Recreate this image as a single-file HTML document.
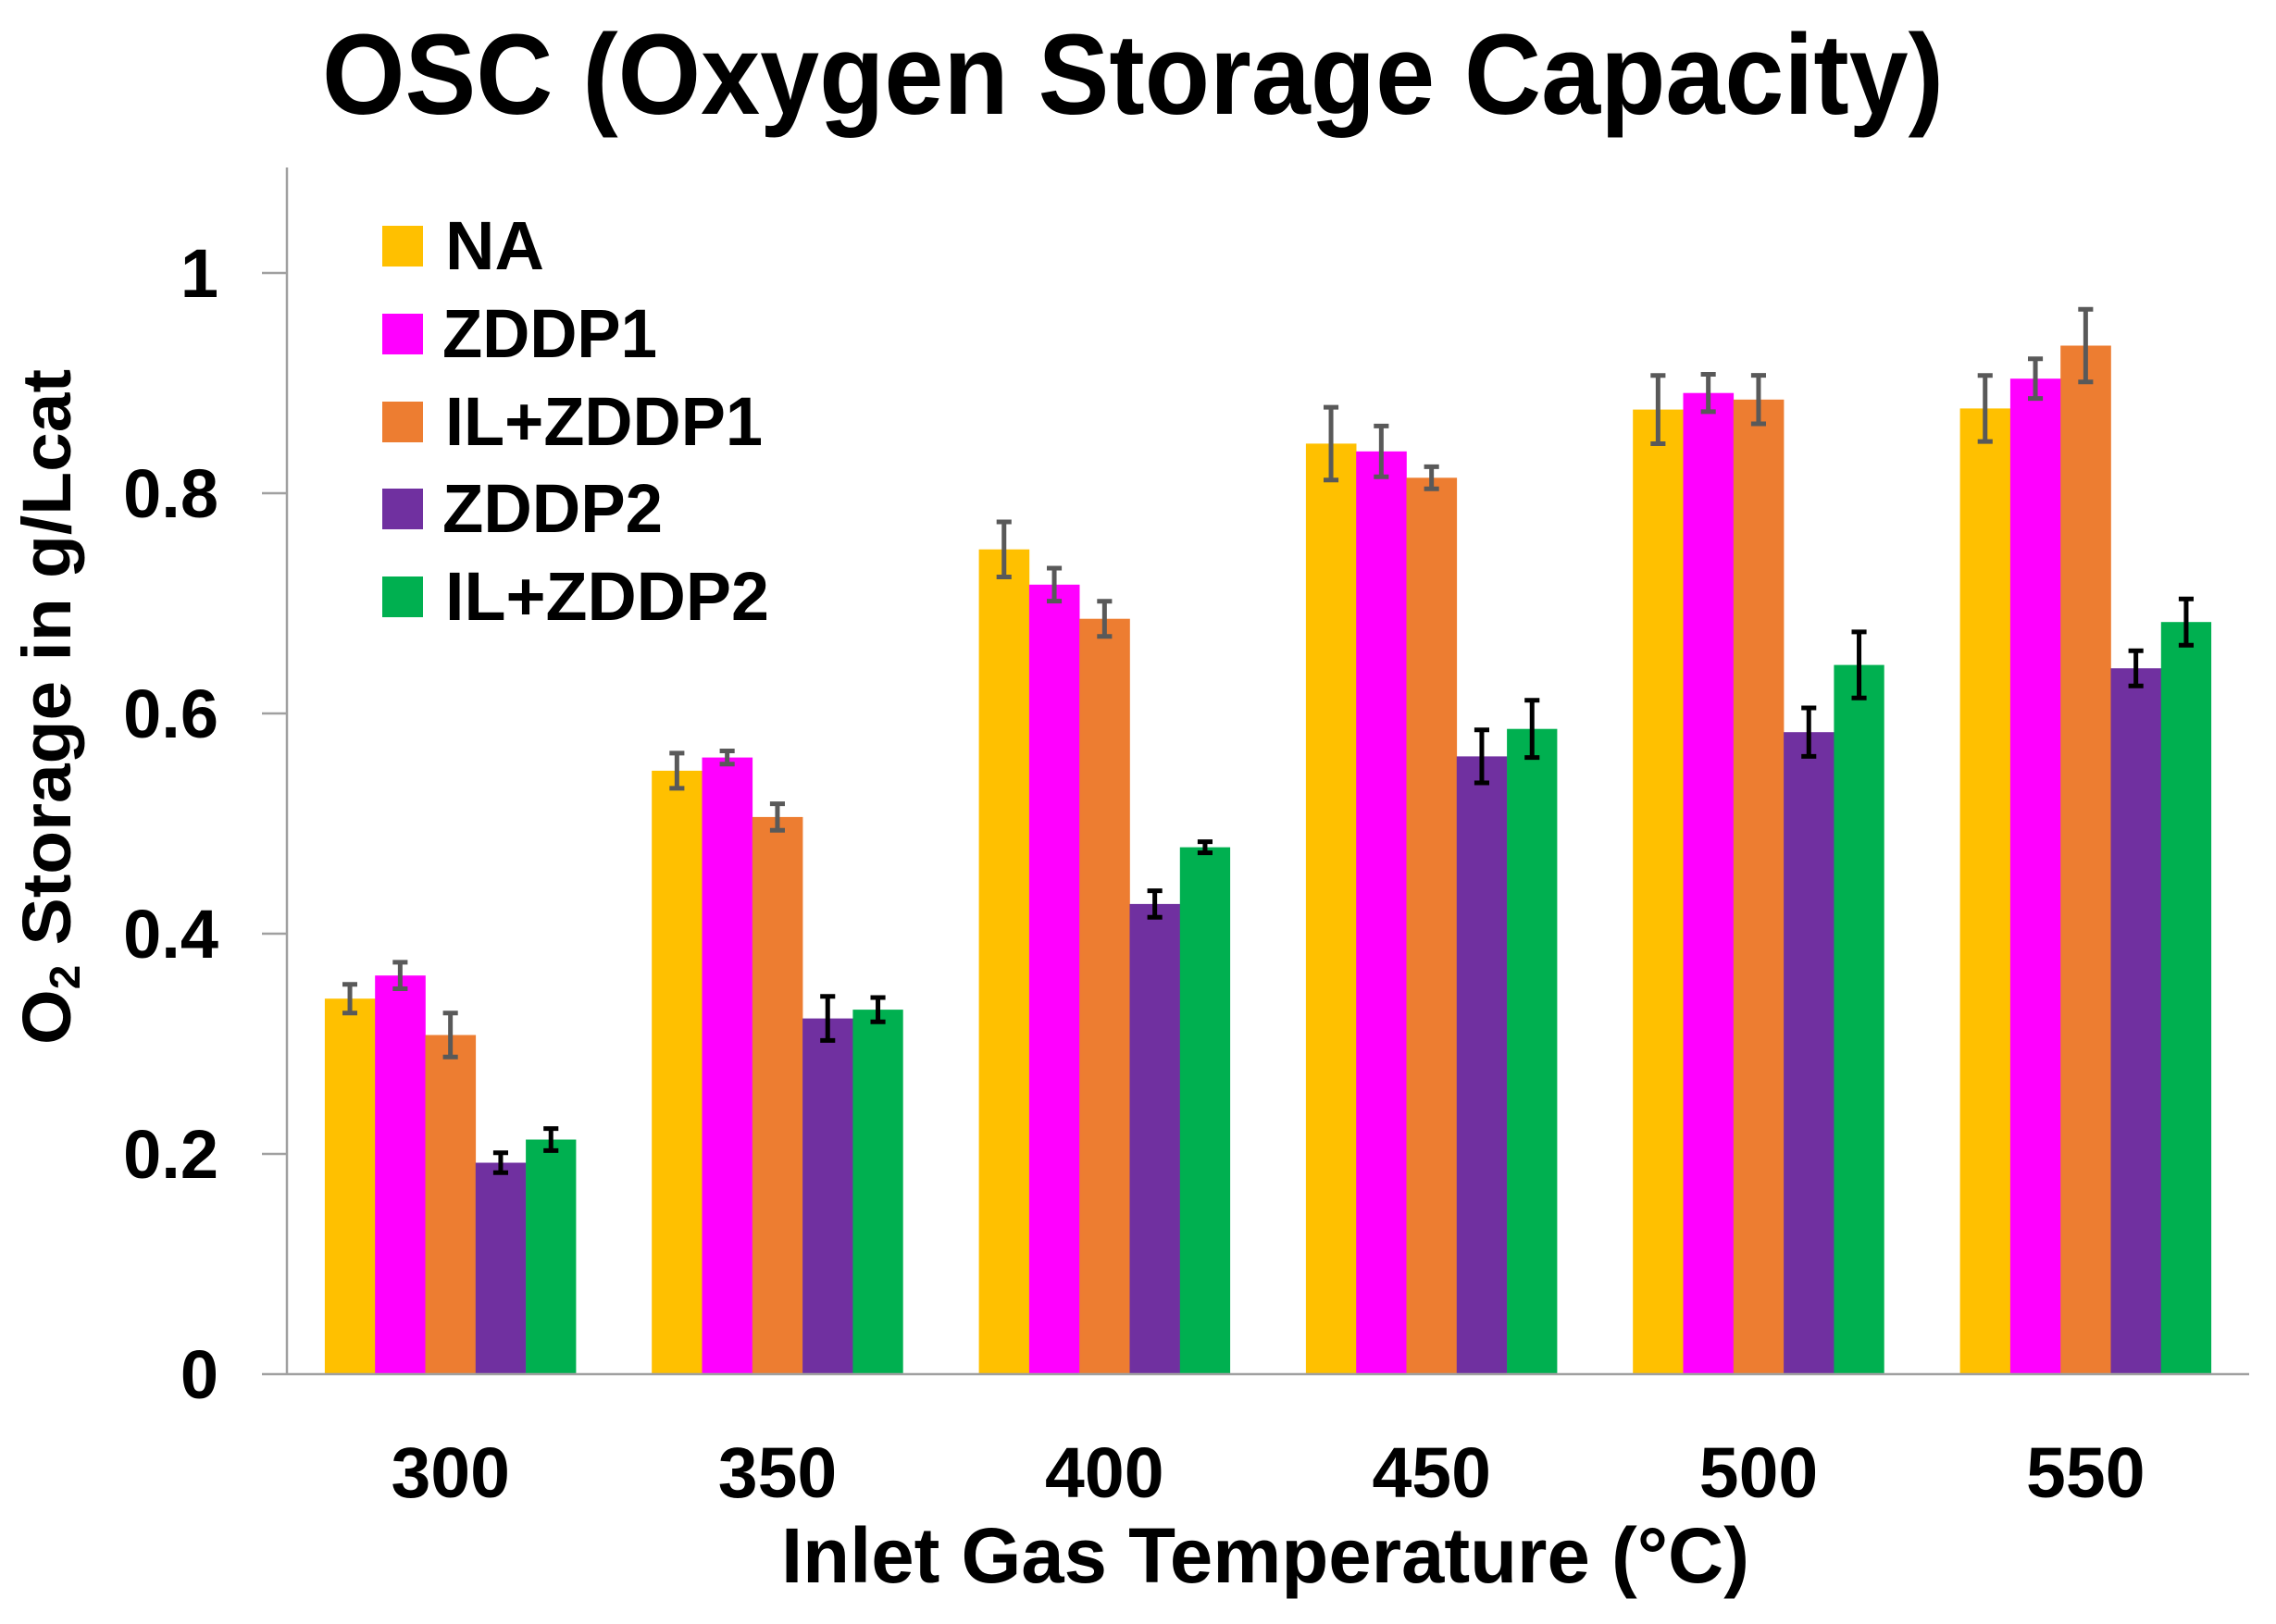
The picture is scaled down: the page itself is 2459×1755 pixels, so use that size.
<!DOCTYPE html>
<html><head><meta charset="utf-8"><style>
html,body{margin:0;padding:0;background:#fff;}
svg{display:block;}
text{font-family:"Liberation Sans",Arial,sans-serif;font-weight:bold;fill:#000;}
</style></head><body>
<svg width="2459" height="1755" viewBox="0 0 2459 1755" xmlns="http://www.w3.org/2000/svg">
<rect width="2459" height="1755" fill="#fff"/>
<text x="348" y="123" font-size="123" textLength="1752" lengthAdjust="spacingAndGlyphs">OSC (Oxygen Storage Capacity)</text>

<g fill="#FFC000">
<rect x="350.9" y="1079.2" width="54.6" height="405.8"/>
<rect x="704.2" y="832.9" width="54.6" height="652.1"/>
<rect x="1057.6" y="593.7" width="54.6" height="891.3"/>
<rect x="1410.9" y="479.4" width="54.6" height="1005.6"/>
<rect x="1764.2" y="442.6" width="54.6" height="1042.4"/>
<rect x="2117.6" y="441.4" width="54.6" height="1043.6"/>
</g>
<g fill="#FF00FF">
<rect x="405.2" y="1054.2" width="54.6" height="430.8"/>
<rect x="758.5" y="818.6" width="54.6" height="666.4"/>
<rect x="1111.9" y="631.8" width="54.6" height="853.2"/>
<rect x="1465.2" y="487.8" width="54.6" height="997.2"/>
<rect x="1818.5" y="424.7" width="54.6" height="1060.3"/>
<rect x="2171.9" y="409.2" width="54.6" height="1075.8"/>
</g>
<g fill="#ED7D31">
<rect x="459.5" y="1118.5" width="54.6" height="366.5"/>
<rect x="812.8" y="882.9" width="54.6" height="602.1"/>
<rect x="1166.2" y="668.7" width="54.6" height="816.3"/>
<rect x="1519.5" y="516.3" width="54.6" height="968.7"/>
<rect x="1872.8" y="431.8" width="54.6" height="1053.2"/>
<rect x="2226.2" y="373.5" width="54.6" height="1111.5"/>
</g>
<g fill="#7030A0">
<rect x="513.8" y="1256.5" width="54.6" height="228.5"/>
<rect x="867.1" y="1100.6" width="54.6" height="384.4"/>
<rect x="1220.5" y="976.9" width="54.6" height="508.1"/>
<rect x="1573.8" y="817.4" width="54.6" height="667.6"/>
<rect x="1927.1" y="791.2" width="54.6" height="693.8"/>
<rect x="2280.5" y="722.2" width="54.6" height="762.8"/>
</g>
<g fill="#00B050">
<rect x="568.1" y="1231.5" width="54.3" height="253.5"/>
<rect x="921.4" y="1091.1" width="54.3" height="393.9"/>
<rect x="1274.8" y="915.6" width="54.3" height="569.4"/>
<rect x="1628.1" y="787.7" width="54.3" height="697.3"/>
<rect x="1981.4" y="718.6" width="54.3" height="766.4"/>
<rect x="2334.8" y="672.2" width="54.3" height="812.8"/>
</g>

<!-- error bars grey -->
<g stroke="#595959" stroke-width="5" fill="none">
<path d="M378.05 1063.7V1094.7M370 1063.7H386M370 1094.7H386"/>
<path d="M432.35 1039.9V1068.5M424.3 1039.9H440.4M424.3 1068.5H440.4"/>
<path d="M486.65 1094.7V1142.3M478.6 1094.7H494.7M478.6 1142.3H494.7"/>
<path d="M731.35 813.9V851.9M723.3 813.9H739.4M723.3 851.9H739.4"/>
<path d="M785.65 811.5V825.7M777.6 811.5H793.7M777.6 825.7H793.7"/>
<path d="M839.95 868.6V897.2M831.9 868.6H848M831.9 897.2H848"/>
<path d="M1084.75 563.95V623.45M1076.7 563.95H1092.8M1076.7 623.45H1092.8"/>
<path d="M1139.05 613.95V649.65M1131 613.95H1147.1M1131 649.65H1147.1"/>
<path d="M1193.35 649.7V687.7M1185.3 649.7H1201.4M1185.3 687.7H1201.4"/>
<path d="M1438.05 440.1V518.7M1430 440.1H1446.1M1430 518.7H1446.1"/>
<path d="M1492.35 460.4V515.2M1484.3 460.4H1500.4M1484.3 515.2H1500.4"/>
<path d="M1546.65 504.4V528.2M1538.6 504.4H1554.7M1538.6 528.2H1554.7"/>
<path d="M1791.35 405.7V479.5M1783.3 405.7H1799.4M1783.3 479.5H1799.4"/>
<path d="M1845.65 404.5V444.9M1837.6 404.5H1853.7M1837.6 444.9H1853.7"/>
<path d="M1899.95 405.6V458M1891.9 405.6H1908M1891.9 458H1908"/>
<path d="M2144.75 405.7V477.1M2136.7 405.7H2152.8M2136.7 477.1H2152.8"/>
<path d="M2199.05 387.8V430.6M2191 387.8H2207.1M2191 430.6H2207.1"/>
<path d="M2253.35 334.2V412.8M2245.3 334.2H2261.4M2245.3 412.8H2261.4"/>
</g>
<!-- error bars black -->
<g stroke="#000" stroke-width="5" fill="none">
<path d="M540.95 1245.8V1267.2M532.9 1245.8H549M532.9 1267.2H549"/>
<path d="M595.25 1219.6V1243.4M587.2 1219.6H603.3M587.2 1243.4H603.3"/>
<path d="M894.25 1076.8V1124.4M886.2 1076.8H902.3M886.2 1124.4H902.3"/>
<path d="M948.55 1078V1104.2M940.5 1078H956.6M940.5 1104.2H956.6"/>
<path d="M1247.65 962.6V991.2M1239.6 962.6H1255.7M1239.6 991.2H1255.7"/>
<path d="M1301.95 909.6V921.6M1293.9 909.6H1310M1293.9 921.6H1310"/>
<path d="M1600.95 788.8V846M1592.9 788.8H1609M1592.9 846H1609"/>
<path d="M1655.25 756.8V818.6M1647.2 756.8H1663.3M1647.2 818.6H1663.3"/>
<path d="M1954.25 765V817.4M1946.2 765H1962.3M1946.2 817.4H1962.3"/>
<path d="M2008.55 682.9V754.3M2000.5 682.9H2016.6M2000.5 754.3H2016.6"/>
<path d="M2307.65 703.2V741.2M2299.6 703.2H2315.7M2299.6 741.2H2315.7"/>
<path d="M2361.95 647.2V697.2M2353.9 647.2H2370M2353.9 697.2H2370"/>
</g>

<!-- axes -->
<g stroke="#a0a0a0" stroke-width="2.5" fill="none">
<path d="M310 181V1485"/>
<path d="M283 1485H2430"/>
<path d="M283 1247H310M283 1009H310M283 771H310M283 533H310M283 295H310"/>
</g>

<!-- y tick labels -->
<g font-size="74" text-anchor="end">
<text x="236" y="1511">0</text>
<text x="236" y="1273">0.2</text>
<text x="236" y="1035">0.4</text>
<text x="236" y="797">0.6</text>
<text x="236" y="559">0.8</text>
<text x="236" y="321">1</text>
</g>

<!-- x tick labels -->
<g font-size="77" text-anchor="middle">
<text x="486.7" y="1618">300</text>
<text x="840" y="1618">350</text>
<text x="1193.3" y="1618">400</text>
<text x="1546.7" y="1618">450</text>
<text x="1900" y="1618">500</text>
<text x="2253.3" y="1618">550</text>
</g>

<text x="1367" y="1710" font-size="84" text-anchor="middle" textLength="1046" lengthAdjust="spacingAndGlyphs">Inlet Gas Temperature (°C)</text>

<text transform="translate(76,764) rotate(-90)" font-size="74" text-anchor="middle" textLength="730" lengthAdjust="spacingAndGlyphs">O<tspan font-size="46" dy="10">2</tspan><tspan dy="-10"> Storage in g/Lcat</tspan></text>

<!-- legend -->
<rect x="413" y="244" width="44" height="44" fill="#FFC000"/>
<rect x="413" y="339" width="44" height="44" fill="#FF00FF"/>
<rect x="413" y="434" width="44" height="44" fill="#ED7D31"/>
<rect x="413" y="528" width="44" height="44" fill="#7030A0"/>
<rect x="413" y="623" width="44" height="44" fill="#00B050"/>
<g font-size="74">
<text x="481" y="291">NA</text>
<text x="478" y="386" textLength="232" lengthAdjust="spacingAndGlyphs">ZDDP1</text>
<text x="481" y="481" textLength="343" lengthAdjust="spacingAndGlyphs">IL+ZDDP1</text>
<text x="478" y="575" textLength="238" lengthAdjust="spacingAndGlyphs">ZDDP2</text>
<text x="481" y="670" textLength="350" lengthAdjust="spacingAndGlyphs">IL+ZDDP2</text>
</g>
</svg>
</body></html>
